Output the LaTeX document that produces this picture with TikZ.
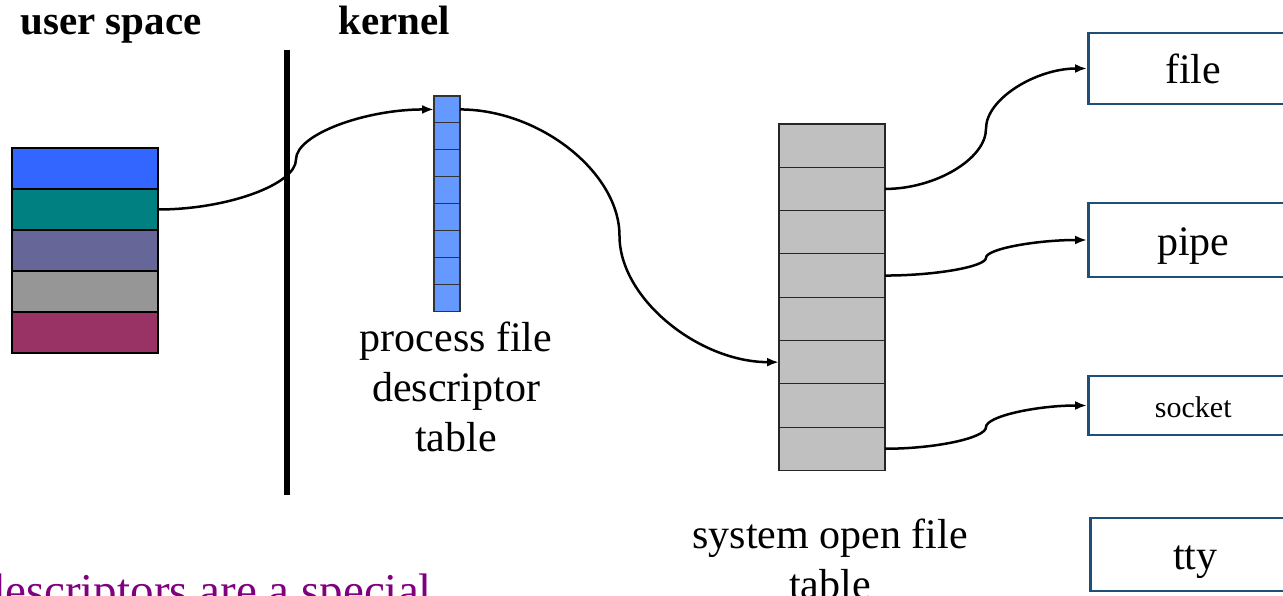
\documentclass[tikz,border=0pt]{standalone}
\usepackage{fontspec}
\setmainfont{Liberation Serif}
\usepackage{xcolor}
\usetikzlibrary{arrows.meta,positioning,calc}

\definecolor{fdblue}{HTML}{3366FF}
\definecolor{fdteal}{HTML}{008080}
\definecolor{fdslate}{HTML}{666699}
\definecolor{fdgray}{HTML}{969696}
\definecolor{fdplum}{HTML}{993366}
\definecolor{pfdfill}{HTML}{6699FF}
\definecolor{sysfill}{HTML}{C0C0C0}
\definecolor{objline}{HTML}{1F4E79}
\definecolor{notepurple}{HTML}{800080}

\tikzset{
	curved/.style={to path={let \p1=(\tikztostart), \p2=(\tikztotarget) in
				.. controls ({(3*\x1+\x2)/4},\y1) and ({(\x1+\x2)/2},{(3*\y1+\y2)/4}) .. ({(\x1+\x2)/2},{(\y1+\y2)/2})
				.. controls ({(\x1+\x2)/2},{(\y1+3*\y2)/4}) and ({(\x1+3*\x2)/4},\y2) .. (\p2) \tikztonodes}},
}

\begin{document}
\begin{tikzpicture}
	[x=1pt, y=-1pt, font=\fontsize{42}{50}\selectfont,
		>={Latex[length=12pt,width=9pt]},
		% STYLES
		% one slot of the user side stack
		ucell/.style={rectangle, draw=black, line width=2.5pt, inner sep=0pt,
				outer sep=0pt, minimum width=146pt, minimum height=41pt},
		% one slot of the process file descriptor table
		pcell/.style={rectangle, draw=black!80, fill=pfdfill, line width=1.2pt,
				inner sep=0pt, outer sep=0pt, minimum width=26pt, minimum height=26.9pt},
		% one slot of the system open file table
		scell/.style={rectangle, draw=black!85, fill=sysfill, line width=1.2pt,
				inner sep=0pt, outer sep=0pt, minimum width=106pt, minimum height=43.3pt},
		% the objects on the right
		obj/.style={rectangle, draw=objline, line width=2.5pt, inner sep=0pt,
				minimum width=210pt, anchor=west, text height=30pt, text depth=0pt},
		conn/.style={->, line width=2.5pt}]

	\useasboundingbox (0,0) rectangle (1283,596);
	\clip (0,0) rectangle (1283,596);

	% Headings and divider
	\node [anchor=base, font=\fontsize{41}{48}\selectfont\bfseries] (user) at (111,35) {user space};
	\node [anchor=base, font=\fontsize{41}{48}\selectfont\bfseries] (kernel) at (394.5,35) {kernel};
	\draw [line width=5.5pt] (287,50) -- (287,495);

	% User side stack
	\node [ucell, fill=fdblue, anchor=north west] (u1) at (12,148) {};
	\node [ucell, fill=fdteal, below=0pt of u1] (u2) {};
	\node [ucell, fill=fdslate, below=0pt of u2] (u3) {};
	\node [ucell, fill=fdgray, below=0pt of u3] (u4) {};
	\node [ucell, fill=fdplum, below=0pt of u4] (u5) {};

	% Process file descriptor table
	\node [pcell, anchor=north west] (p1) at (434,96) {};
	\node [pcell, below=0pt of p1] (p2) {};
	\node [pcell, below=0pt of p2] (p3) {};
	\node [pcell, below=0pt of p3] (p4) {};
	\node [pcell, below=0pt of p4] (p5) {};
	\node [pcell, below=0pt of p5] (p6) {};
	\node [pcell, below=0pt of p6] (p7) {};
	\node [pcell, below=0pt of p7] (p8) {};
	\node [align=center, inner sep=0pt, below=11pt of p8, xshift=9pt] (pname)
		{process file\\descriptor\\table};

	% System open file table
	\node [scell, anchor=north west] (s1) at (779,124) {};
	\node [scell, below=0pt of s1] (s2) {};
	\node [scell, below=0pt of s2] (s3) {};
	\node [scell, below=0pt of s3] (s4) {};
	\node [scell, below=0pt of s4] (s5) {};
	\node [scell, below=0pt of s5] (s6) {};
	\node [scell, below=0pt of s6] (s7) {};
	\node [scell, below=0pt of s7] (s8) {};
	\node [align=center, inner sep=0pt, below=48pt of s8, xshift=-2pt] (sname)
		{system open file\\table};

	% Objects
	\node [obj, minimum height=71pt] (file) at (1087,68.5) {file};
	\node [obj, minimum height=74pt] (pipe) at (1087,240) {pipe};
	\node [obj, minimum height=59pt, text height=23pt, font=\fontsize{30}{36}\selectfont] (socket) at (1087,405.5) {socket};
	\node [obj, minimum height=73pt] (tty) at (1089,554.5) {tty};

	% Note at the bottom
	\node [anchor=base west, inner sep=0pt, text=notepurple,
		font=\fontsize{47}{56}\selectfont] (note) at (-18.5,606) {descriptors are a special};

	% Links
	\path [conn]
	(u2.east) edge [curved] (p1.west)
	(p1.east) edge [curved] (s6.west)
	(s2.east) edge [curved] (file.west)
	(s4.east) edge [curved] (pipe.west)
	(s8.east) edge [curved] (socket.west);
\end{tikzpicture}
\end{document}
